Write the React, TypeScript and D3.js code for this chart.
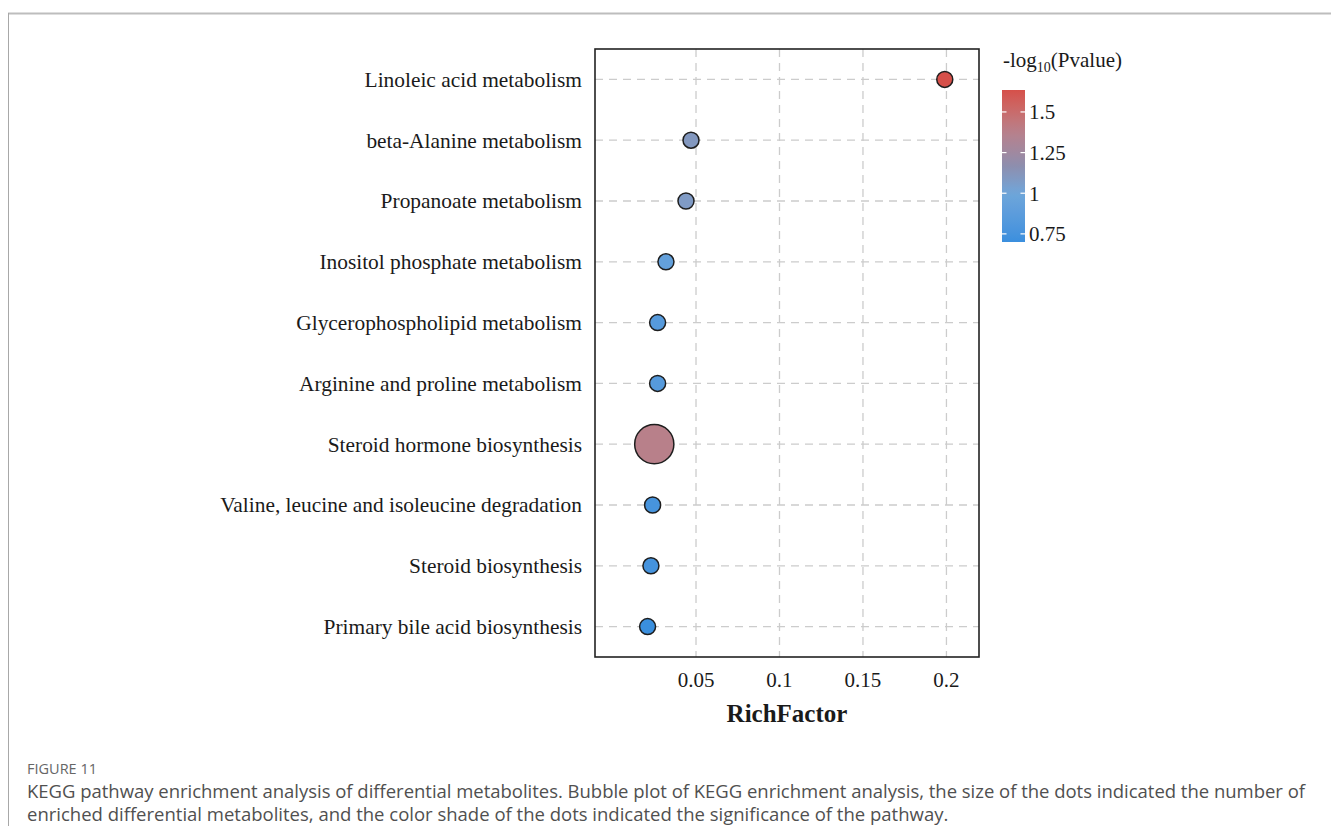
import React from "react";
import * as d3 from "d3";

// KEGG pathways, top to bottom
const pathways = [
  "Linoleic acid metabolism",
  "beta-Alanine metabolism",
  "Propanoate metabolism",
  "Inositol phosphate metabolism",
  "Glycerophospholipid metabolism",
  "Arginine and proline metabolism",
  "Steroid hormone biosynthesis",
  "Valine, leucine and isoleucine degradation",
  "Steroid biosynthesis",
  "Primary bile acid biosynthesis",
];
const richFactor = [0.199, 0.047, 0.044, 0.032, 0.027, 0.027, 0.025, 0.024, 0.023, 0.021];
const negLogP = [1.635, 1.1, 1.08, 0.92, 0.84, 0.84, 1.38, 0.76, 0.75, 0.7];
const hitCount = [1, 1, 1, 1, 1, 1, 6, 1, 1, 1];

const xTicks = [0.05, 0.1, 0.15, 0.2];
const xTickLabels = ["0.05", "0.1", "0.15", "0.2"];
const colorTicks = [0.75, 1, 1.25, 1.5];
const colorTickLabels = ["0.75", "1", "1.25", "1.5"];

// gradient palette for -log10(P)
const paletteStops = [0, 0.32, 0.5, 0.72, 1];
const paletteColors = ["#3a8fde", "#6ea6da", "#8d8eae", "#b7818c", "#d6504a"];

const W = 1331;
const H = 826;
const panel = { left: 595, right: 979, top: 49, bottom: 657 };
const serif = "'Liberation Serif', 'Times New Roman', serif";
const sans = "'Open Sans', 'Noto Sans', sans-serif";

export default function App() {
  const x = d3.scaleLinear().domain([-0.0105, 0.2195]).range([panel.left, panel.right]);
  const y = d3
    .scalePoint<string>()
    .domain(pathways)
    .range([panel.top, panel.bottom])
    .padding(0.5);
  const r = d3.scaleSqrt().domain([0, 6]).range([0, 19.6]);

  const [cMin, cMax] = d3.extent(negLogP) as [number, number];
  const t = d3.scaleLinear().domain([cMin, cMax]).range([0, 1]);
  const palette = d3
    .scaleLinear<string>()
    .domain(paletteStops)
    .range(paletteColors)
    .interpolate(d3.interpolateLab);
  const color = (v: number) => palette(t(v));

  const bar = { x: 1002, w: 23, top: 90, bottom: 242 };
  const cy = d3.scaleLinear().domain([cMin, cMax]).range([bar.bottom, bar.top]);
  const gradStops = d3.range(0, 1.0001, 0.05);

  const dash = "8,6";

  return (
    <svg
      width={W}
      height={H}
      style={{ position: "absolute", left: 0, top: 0, background: "#fff" }}
    >
      <defs>
        <linearGradient id="pbar" x1="0" y1="1" x2="0" y2="0">
          {gradStops.map((s) => (
            <stop key={s} offset={s} stopColor={palette(s)} />
          ))}
        </linearGradient>
      </defs>

      {/* figure frame */}
      <line x1={8} x2={W} y1={13.5} y2={13.5} stroke="#bdbdbd" strokeWidth={2} />
      <line x1={8.5} x2={8.5} y1={13} y2={H} stroke="#a8a8a8" strokeWidth={1} />

      {/* grid */}
      {pathways.map((p) => (
        <line
          key={p}
          x1={panel.left}
          x2={panel.right}
          y1={y(p)}
          y2={y(p)}
          stroke="#cccccc"
          strokeWidth={1.3}
          strokeDasharray={dash}
        />
      ))}
      {xTicks.map((v) => (
        <line
          key={v}
          x1={x(v)}
          x2={x(v)}
          y1={panel.top}
          y2={panel.bottom}
          stroke="#cccccc"
          strokeWidth={1.3}
          strokeDasharray={dash}
        />
      ))}

      {/* bubbles */}
      {pathways.map((p, i) => (
        <circle
          key={p}
          cx={x(richFactor[i])}
          cy={y(p)}
          r={r(hitCount[i])}
          fill={color(negLogP[i])}
          stroke="#1e1e1e"
          strokeWidth={1.5}
        />
      ))}

      {/* panel border */}
      <rect
        x={panel.left}
        y={panel.top}
        width={panel.right - panel.left}
        height={panel.bottom - panel.top}
        fill="none"
        stroke="#222"
        strokeWidth={1.6}
      />

      {/* y labels */}
      {pathways.map((p) => (
        <text
          key={p}
          x={panel.left - 13}
          y={y(p)}
          dy="0.35em"
          textAnchor="end"
          fontFamily={serif}
          fontSize={21.4}
          fill="#1a1a1a"
        >
          {p}
        </text>
      ))}

      {/* x tick labels */}
      {xTicks.map((v, i) => (
        <text
          key={v}
          x={x(v)}
          y={687}
          textAnchor="middle"
          fontFamily={serif}
          fontSize={21}
          fill="#1a1a1a"
        >
          {xTickLabels[i]}
        </text>
      ))}
      <text
        x={(panel.left + panel.right) / 2}
        y={722}
        textAnchor="middle"
        fontFamily={serif}
        fontSize={25}
        fontWeight="bold"
        fill="#1a1a1a"
      >
        RichFactor
      </text>

      {/* colour legend */}
      <text x={1003} y={67} fontFamily={serif} fontSize={21} fill="#1a1a1a">
        -log
        <tspan fontSize={14} dy={5}>
          10
        </tspan>
        <tspan dy={-5}>(Pvalue)</tspan>
      </text>
      <rect x={bar.x} y={bar.top} width={bar.w} height={bar.bottom - bar.top} fill="url(#pbar)" />
      {colorTicks.map((v, i) => (
        <g key={v}>
          <line x1={bar.x} x2={bar.x + 4.5} y1={cy(v)} y2={cy(v)} stroke="#fff" strokeWidth={1.2} />
          <line
            x1={bar.x + bar.w - 4.5}
            x2={bar.x + bar.w}
            y1={cy(v)}
            y2={cy(v)}
            stroke="#fff"
            strokeWidth={1.2}
          />
          <text
            x={bar.x + bar.w + 4}
            y={cy(v)}
            dy="0.35em"
            fontFamily={serif}
            fontSize={21}
            fill="#1a1a1a"
          >
            {colorTickLabels[i]}
          </text>
        </g>
      ))}

      {/* caption */}
      <text x={27} y={774} fontFamily={sans} fontSize={14.5} fill="#666">
        FIGURE 11
      </text>
      <text
        x={27}
        y={798}
        fontFamily={sans}
        fontSize={18.5}
        fill="#505050"
        textLength={1278}
        lengthAdjust="spacing"
      >
        KEGG pathway enrichment analysis of differential metabolites. Bubble plot of KEGG
        enrichment analysis, the size of the dots indicated the number of
      </text>
      <text x={27} y={821} fontFamily={sans} fontSize={18.5} fill="#505050">
        enriched differential metabolites, and the color shade of the dots indicated the
        significance of the pathway.
      </text>
    </svg>
  );
}
